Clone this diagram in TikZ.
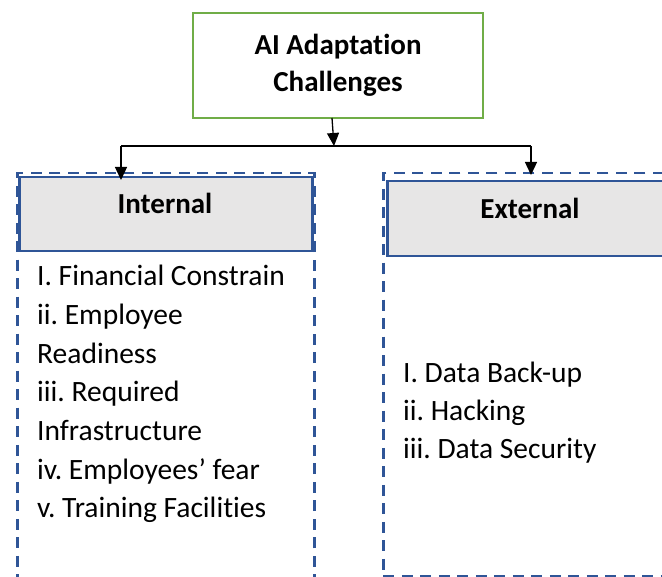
\documentclass[tikz,border=0pt]{standalone}
\usepackage{fontspec}
\setmainfont{Carlito}[Ligatures={NoCommon,NoContextual}]
\frenchspacing
\usetikzlibrary{arrows.meta}
\definecolor{dblue}{HTML}{2F5597}
\definecolor{ogreen}{HTML}{70AD47}
\definecolor{lgrey}{HTML}{E7E6E6}
\tikzset{
  listtext/.style={anchor=base west, inner sep=0pt, font=\fontsize{29.5}{37}\selectfont},
  headtext/.style={anchor=base, inner sep=0pt, font=\fontsize{29}{37}\selectfont\bfseries},
  headbox/.style={draw=dblue, line width=2.5pt, fill=lgrey, rectangle, inner sep=0pt},
  groupbox/.style={draw=dblue, line width=2.5pt, dash pattern=on 11pt off 7.5pt, rectangle, inner sep=0pt},
  conn/.style={line width=1.3pt, black},
  tip/.style={-{Triangle[length=13pt,width=12pt]}}
}
\begin{document}
\begin{tikzpicture}[x=1pt,y=-1pt]
\useasboundingbox (0,0) rectangle (662,577);
\clip (0,0) rectangle (662,577);
\fill[white] (0,0) rectangle (662,577);
% group boxes
\node[groupbox, minimum width=297pt, minimum height=448pt, anchor=north west] (gl) at (16,172) {};
\node[groupbox, minimum width=318pt, minimum height=403pt, anchor=north west] (gr) at (382,172) {};
% headers
\node[headbox, minimum width=293pt, minimum height=74pt, anchor=north west] (int) at (18,176) {};
\node[headbox, minimum width=314pt, minimum height=75pt, anchor=north west] (ext) at (386,180) {};
\node[headtext] (intt) at (165,214) {Internal};
\node[headtext] (extt) at (530,219) {External};
% title
\node[draw=ogreen, line width=2.5pt, minimum width=290pt, minimum height=105pt, align=center,
      font=\fontsize{29}{37}\selectfont\bfseries, inner sep=0pt] (t) at (338,65.5) {AI Adaptation\\Challenges};
% connectors
\coordinate (j) at (334,146);
\coordinate (a) at (121,146);
\coordinate (b) at (531,146);
\coordinate (ai) at (121,180);
\coordinate (bi) at (531,175);
\draw[conn, tip] (332,118) -- (j);
\draw[conn] (a) -- (b);
\draw[conn, tip] (a) -- (ai);
\draw[conn, tip] (b) -- (bi);
% internal list
\node[listtext] (l1) at (37,286) {I. Financial Constrain};
\node[listtext] (l2) at (37,324.7) {ii. Employee};
\node[listtext] (l3) at (37,363.4) {Readiness};
\node[listtext] (l4) at (37,402) {iii. Required};
\node[listtext] (l5) at (37,440.8) {Infrastructure};
\node[listtext] (l6) at (37,479.5) {iv. Employees’ fear};
\node[listtext] (l7) at (37,518) {v. Training Facilities};
% external list
\node[listtext] (r1) at (403,383) {I. Data Back-up};
\node[listtext] (r2) at (403,421) {ii. Hacking};
\node[listtext] (r3) at (403,459) {iii. Data Security};
\end{tikzpicture}
\end{document}
